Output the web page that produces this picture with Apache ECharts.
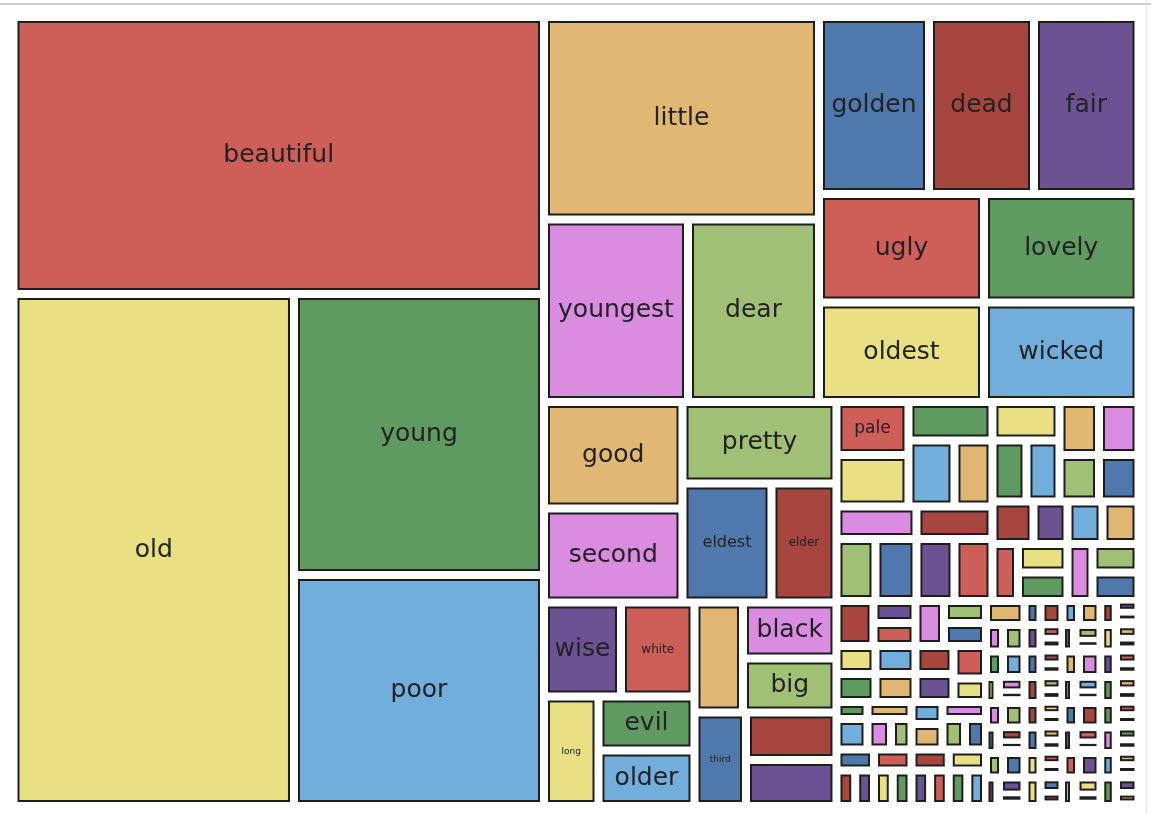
<!DOCTYPE html>
<html>
<head>
<meta charset="utf-8">
<script src="https://cdn.jsdelivr.net/npm/echarts@6/dist/echarts.min.js"></script>
<style>
html,body{margin:0;padding:0;background:#ffffff;}
#chart{width:1151px;height:814px;}
</style>
</head>
<body>
<div id="chart"></div>
<script>
// Labelled words (index = leaf index); unlabelled cells beyond these have no readable text.
const words = ['beautiful','old','young','poor','little','youngest','dear','golden','dead','fair',
  'ugly','oldest','lovely','wicked','good','second','pretty','eldest','elder','wise',
  'white','long','evil','older','','black','big','third','','','pale'];

// Relative size of every cell (area units).
const counts = [
  146949,143616,70250,57750,55688,26280,23908,19470,18585,18497,
  17903,16418,16763,15373,14750,13019,12551,10591,7735,7238,
  6909,5968,5184,5328,5335,5236,5049,4815,4299,4163,
  3816,3708,3234,3036,2508,2600,2418,2542,2470,2356,
  2356,2580,2074,2013,2094,2094,1837,1837,1743,1445,
  1454,1411,1411,1488,1530,1425,1311,1311,1665,924,
  966,1092,1092,1120,1120,1283,924,966,1064,1064,
  1056,764,527,946,748,717,625,682,791,740,
  686,641,788,666,666,788,666,666,782,661,
  661,782,661,661,924,451,570,384,528,396,
  516,372,297,243,424,321,262,345,398,265,
  411,328,268,434,548,408,309,252,421,548,
  395,316,258,338,398,265,416,315,257,338,
  390,260,403,322,263,417,527,392,296,243,
  404,527,380,303,248,332,390,260,408,309,
  252,332,383,255,395,316,258,417,527,392,
  296,243,404,527,380,303,248,371,436,291,
  456,345,282,371,428,285,442,353,288
];

// Colour key of every cell.
const hues = [
  'R','Y','G','LB','O','P','LG','B','DR','PU',
  'R','Y','G','LB','O','P','LG','B','DR','PU',
  'R','Y','G','LB','O','P','LG','B','DR','PU',
  'R','Y','G','LB','O','P','LG','B','DR','PU',
  'R','Y','G','LB','O','P','LG','B','DR','PU',
  'R','Y','G','LB','O','P','LG','B','DR','PU',
  'R','Y','G','LB','O','P','LG','B','DR','PU',
  'R','Y','G','LB','O','P','LG','LB','O','P',
  'LG','B','B','DR','PU','R','Y','G','DR','PU',
  'R','Y','G','LB','O','P','LG','B','DR','LB',
  'O','DR','PU','Y','PU','R','B','PU','LG','DR',
  'Y','O','G','G','LB','B','DR','PU','O','P',
  'PU','R','B','Y','P','B','DR','LG','R','G',
  'LB','DR','G','O','PU','P','LG','DR','Y','B',
  'B','DR','G','R','PU','B','DR','G','B','O',
  'P','PU','R','B','P','G','DR','LG','B','Y',
  'R','LB','R','PU','LB','O','G','DR','PU','R',
  'Y','B','DR','LG','Y','LG','G','PU','O'
];

const palette = {R:'#CE5F58',Y:'#E9E083',G:'#5F9B61',LB:'#71AEDB',O:'#E0B874',
  P:'#D98CE0',LG:'#9FC075',B:'#4F79AD',DR:'#A6463F',PU:'#6B5393'};

const labelSize = {pale:17, eldest:16, elder:12, white:12, long:9, third:9};

// Nesting of the cells (leaf indices), so the squarified layout follows the picture.
const sbr = [
  [
    [ [ [94,[95,96]], [[97,98],[104,[105,106]]] ],
      [ [[113,114],[123,[124,125]]], [[115,[116,117]],[126,[127,128]]] ] ],
    [ [ [[99,100],[107,[108,109]]], [[101,[102,103]],[110,[111,112]]] ],
      [ [[118,119],[129,[130,131]]], [[120,[121,122]],[132,[133,134]]] ] ]
  ],
  [
    [ [ [[135,136],[145,[146,147]]], [[137,[138,139]],[148,[149,150]]] ],
      [ [[157,158],[167,[168,169]]], [[159,[160,161]],[170,[171,172]]] ] ],
    [ [ [[140,141],[151,[152,153]]], [[142,[143,144]],[154,[155,156]]] ],
      [ [[162,163],[173,[174,175]]], [[164,[165,166]],[176,[177,178]]] ] ]
  ]
];
const layoutTree = [
  [0,1,2,3],
  [
    [ [4,5,6], [[7,8,9],[10,11],[12,13]] ],
    [
      [
        [[14,15],[16,[17,18]]],
        [ [[19,20],[21,[22,23]]], [[24,[25,26]],[27,[28,29]]] ]
      ],
      [
        [
          [ [[30,31],[32,[33,34]]], [[35,[36,37]],[38,[39,40]]] ],
          [ [[41,42,43],[44,45,46,47]], [[48,49,50,[51,52]],[53,54,55,[56,57]]] ]
        ],
        [
          [
            [ [[58,[59,60]],[[61,62],[63,64]]], [[65,[66,67]],[[68,69],[70,71]]] ],
            [ [ [[72,73],[74,[75,76]]], [[82,[83,84]],[85,[86,87]]] ],
              [ [[77,78],[79,[80,81]]], [[88,[89,90]],[91,[92,93]]] ] ]
          ],
          sbr
        ]
      ]
    ]
  ]
];

function build(n) {
  if (typeof n === 'number') {
    const name = words[n] || '';
    return {
      name: name,
      value: counts[n],
      itemStyle: {color: palette[hues[n]]},
      label: {fontSize: labelSize[name] || 25}
    };
  }
  return {
    name: '',
    children: n.map(build),
    itemStyle: {borderWidth: 0, borderColor: '#ffffff', gapWidth: 8}
  };
}

const chart = echarts.init(document.getElementById('chart'), null, {renderer: 'canvas'});
chart.setOption({
  animation: false,
  backgroundColor: '#ffffff',
  graphic: [
    {type: 'line', shape: {x1: 0, y1: 4, x2: 1151, y2: 4}, style: {stroke: '#cdcdcd', lineWidth: 2}, silent: true},
    {type: 'line', shape: {x1: 1146.5, y1: 4, x2: 1146.5, y2: 814}, style: {stroke: '#e6e6e6', lineWidth: 1}, silent: true}
  ],
  series: [{
    type: 'treemap',
    left: 17.5, top: 21, width: 1117, height: 781,
    sort: false,
    squareRatio: 1,
    roam: false,
    nodeClick: false,
    breadcrumb: {show: false},
    data: layoutTree.map(build),
    levels: [{itemStyle: {borderWidth: 0, borderColor: '#ffffff', gapWidth: 8}}],
    itemStyle: {borderWidth: 2, borderColor: '#1e1e1e', gapWidth: 8},
    label: {
      show: true,
      position: 'inside',
      align: 'center',
      verticalAlign: 'middle',
      color: '#222222',
      fontFamily: 'DejaVu Sans',
      fontSize: 25,
      padding: 0,
      overflow: 'none'
    },
    upperLabel: {show: false},
    emphasis: {disabled: true}
  }]
});
</script>
</body>
</html>
